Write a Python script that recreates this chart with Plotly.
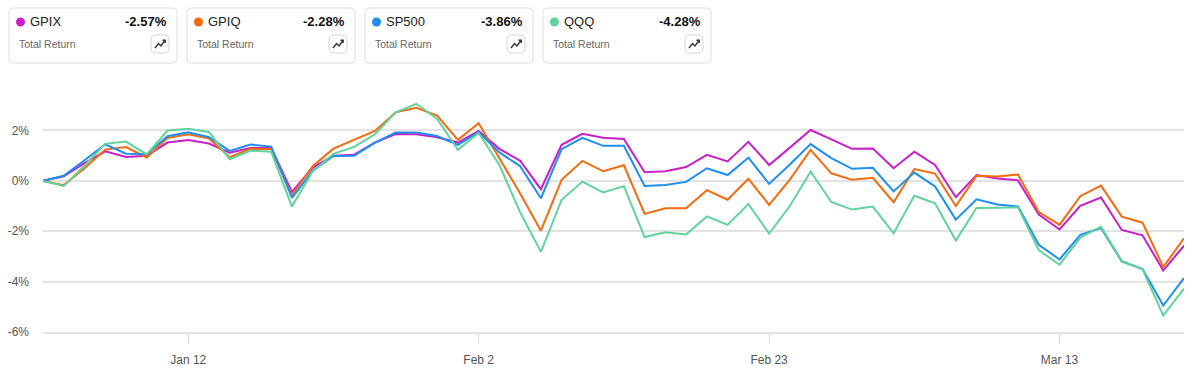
import plotly.graph_objects as go

# ---------------- data ----------------
dates = [
    "2025-12-31", "2026-01-02", "2026-01-05", "2026-01-06", "2026-01-07", "2026-01-08", "2026-01-09",
    "2026-01-12", "2026-01-13", "2026-01-14", "2026-01-15", "2026-01-16",
    "2026-01-20", "2026-01-21", "2026-01-22", "2026-01-23",
    "2026-01-26", "2026-01-27", "2026-01-28", "2026-01-29", "2026-01-30",
    "2026-02-02", "2026-02-03", "2026-02-04", "2026-02-05", "2026-02-06",
    "2026-02-09", "2026-02-10", "2026-02-11", "2026-02-12", "2026-02-13",
    "2026-02-17", "2026-02-18", "2026-02-19", "2026-02-20",
    "2026-02-23", "2026-02-24", "2026-02-25", "2026-02-26", "2026-02-27",
    "2026-03-02", "2026-03-03", "2026-03-04", "2026-03-05", "2026-03-06",
    "2026-03-09", "2026-03-10", "2026-03-11", "2026-03-12",
    "2026-03-13", "2026-03-16", "2026-03-17", "2026-03-18", "2026-03-19", "2026-03-20",
    "2026-03-23",
]

gpix = [0, 0.18, 0.7, 1.17, 0.95, 1.0, 1.52, 1.62, 1.48, 1.12, 1.3, 1.3, -0.44, 0.53, 1.0, 1.04,
        1.52, 1.86, 1.85, 1.73, 1.52, 1.98, 1.27, 0.8, -0.33, 1.43, 1.87, 1.71, 1.66, 0.34, 0.38,
        0.55, 1.03, 0.77, 1.55, 0.63, 1.32, 2.02, 1.65, 1.27, 1.28, 0.5, 1.16, 0.63, -0.65, 0.23,
        0.09, 0.02, -1.34, -1.93, -0.99, -0.66, -1.95, -2.16, -3.56, -2.57]
gpiq = [0, -0.17, 0.5, 1.24, 1.34, 0.93, 1.7, 1.85, 1.68, 0.94, 1.27, 1.26, -0.58, 0.58, 1.28, 1.62,
        1.98, 2.72, 2.9, 2.59, 1.63, 2.29, 0.9, -0.5, -1.98, 0.04, 0.79, 0.38, 0.62, -1.31, -1.09,
        -1.09, -0.37, -0.75, 0.08, -0.95, 0.05, 1.23, 0.3, 0.04, 0.12, -0.85, 0.47, 0.29, -1.0, 0.2,
        0.17, 0.25, -1.24, -1.75, -0.61, -0.19, -1.42, -1.66, -3.42, -2.28]
sp500 = [0, 0.2, 0.82, 1.45, 1.08, 1.07, 1.77, 1.93, 1.73, 1.19, 1.44, 1.36, -0.68, 0.4, 0.99, 1.0,
         1.52, 1.92, 1.92, 1.78, 1.43, 1.93, 1.13, 0.58, -0.69, 1.26, 1.71, 1.39, 1.39, -0.2, -0.16,
         -0.04, 0.5, 0.23, 0.92, -0.12, 0.65, 1.46, 0.9, 0.48, 0.52, -0.42, 0.33, -0.22, -1.54, -0.73,
         -0.94, -1.02, -2.54, -3.12, -2.14, -1.87, -3.2, -3.5, -4.95, -3.86]
qqq = [0, -0.2, 0.6, 1.47, 1.56, 1.05, 2.0, 2.07, 1.94, 0.86, 1.2, 1.16, -1.02, 0.38, 1.07, 1.35,
       1.85, 2.72, 3.06, 2.46, 1.23, 1.9, 0.63, -1.25, -2.82, -0.75, -0.03, -0.46, -0.21, -2.23, -2.04,
       -2.13, -1.41, -1.75, -0.92, -2.09, -1.0, 0.37, -0.84, -1.14, -1.02, -2.08, -0.59, -0.89, -2.37, -1.08,
       -1.07, -1.05, -2.75, -3.33, -2.25, -1.82, -3.18, -3.5, -5.35, -4.28]

series_names = ["GPIX", "GPIQ", "SP500", "QQQ"]
series_values = [gpix, gpiq, sp500, qqq]
series_colors = ["#c81fc8", "#f56b0f", "#1f8ef1", "#5fd39b"]
card_values = ["-2.57%", "-2.28%", "-3.86%", "-4.28%"]
card_sub = "Total Return"

x_tick_vals = ["2026-01-12", "2026-02-02", "2026-02-23", "2026-03-13"]
x_tick_text = ["Jan 12", "Feb 2", "Feb 23", "Mar 13"]
y_tick_vals = [-6, -4, -2, 0, 2]
y_tick_text = ["-6%", "-4%", "-2%", "0%", "2%"]

# ---------------- figure ----------------
W, H = 1199, 377
ML, MR, MT, MB = 43, 15, 100, 45
PW, PH = W - ML - MR, H - MT - MB

def px(x):
    return (x - ML) / PW

def py(y):
    return (H - MB - y) / PH

fig = go.Figure()
for name, vals, col in zip(series_names, series_values, series_colors):
    fig.add_trace(go.Scatter(
        x=dates, y=vals, name=name, mode="lines",
        line=dict(color=col, width=2),
        hovertemplate="%{y:.2f}%<extra>" + name + "</extra>",
    ))

shapes = []
annotations = []

def rounded_rect(x0, y0, x1, y1, r):
    X0, X1 = px(x0), px(x1)
    Y0, Y1 = py(y0), py(y1)
    rx, ry = r / PW, r / PH
    return (f"M {X0+rx},{Y0} L {X1-rx},{Y0} Q {X1},{Y0} {X1},{Y0-ry} "
            f"L {X1},{Y1+ry} Q {X1},{Y1} {X1-rx},{Y1} L {X0+rx},{Y1} "
            f"Q {X0},{Y1} {X0},{Y1+ry} L {X0},{Y0-ry} Q {X0},{Y0} {X0+rx},{Y0} Z")

card_lefts = [9, 187, 365, 543]
card_w = 168
for i, (name, col, val) in enumerate(zip(series_names, series_colors, card_values)):
    cx = card_lefts[i]
    shapes.append(dict(type="path", xref="paper", yref="paper",
                       path=rounded_rect(cx, 8, cx + card_w, 63, 4),
                       line=dict(color="#dedede", width=1), fillcolor="white", layer="below"))
    shapes.append(dict(type="circle", xref="paper", yref="paper",
                       x0=px(cx + 7), x1=px(cx + 16), y0=py(26.5), y1=py(17.5),
                       line=dict(width=0), fillcolor=col))
    annotations.append(dict(xref="paper", yref="paper", x=px(cx + 19), y=py(22),
                            text=name, showarrow=False, xanchor="left", yanchor="middle",
                            font=dict(size=13, color="#222", family="Liberation Sans, Arial")))
    annotations.append(dict(xref="paper", yref="paper", x=px(cx + 160), y=py(22),
                            text="<b>" + val + "</b>", showarrow=False, xanchor="right", yanchor="middle",
                            font=dict(size=13, color="#111", family="Liberation Sans, Arial")))
    annotations.append(dict(xref="paper", yref="paper", x=px(cx + 8), y=py(44),
                            text=card_sub, showarrow=False, xanchor="left", yanchor="middle",
                            font=dict(size=10.5, color="#666", family="Liberation Sans, Arial")))
    bx = cx + 142
    shapes.append(dict(type="path", xref="paper", yref="paper",
                       path=rounded_rect(bx, 35, bx + 18, 53, 5),
                       line=dict(color="#d5d5d5", width=1), fillcolor="white"))
    ipath = (f"M {px(bx+4)},{py(48)} L {px(bx+7.5)},{py(43.5)} L {px(bx+10)},{py(46)} "
             f"L {px(bx+14)},{py(40.5)}")
    shapes.append(dict(type="path", xref="paper", yref="paper", path=ipath,
                       line=dict(color="#333", width=1.4)))
    apath = (f"M {px(bx+11.5)},{py(40.3)} L {px(bx+14.2)},{py(40.3)} L {px(bx+14.2)},{py(43)}")
    shapes.append(dict(type="path", xref="paper", yref="paper", path=apath,
                       line=dict(color="#333", width=1.4)))

fig.update_layout(
    width=W, height=H,
    margin=dict(l=ML, r=MR, t=MT, b=MB, pad=0, autoexpand=False),
    paper_bgcolor="white", plot_bgcolor="white",
    showlegend=False,
    font=dict(family="Liberation Sans, Arial", size=12, color="#555"),
    shapes=shapes, annotations=annotations,
    hovermode="x unified",
)
fig.update_xaxes(
    type="category", range=[0, len(dates) - 1], automargin=False,
    tickmode="array", tickvals=x_tick_vals, ticktext=x_tick_text,
    ticks="outside", ticklen=10, tickcolor="#dcdcdc", tickwidth=1,
    showgrid=False, showline=True, linecolor="#e3e3e3", linewidth=2,
    tickfont=dict(size=12, color="#555"), ticklabelstandoff=6,
    zeroline=False,
)
fig.update_yaxes(
    range=[-6, 3.21], automargin=False, tickmode="array", tickvals=y_tick_vals, ticktext=y_tick_text,
    showgrid=True, gridcolor="#e3e3e3", gridwidth=2,
    zeroline=False, showline=False, ticks="",
    tickfont=dict(size=12, color="#555"), ticklabelstandoff=13,
)

fig.write_html("out.html", config={"displayModeBar": False})

# remove default page margin so the figure sits at the window's origin
with open("out.html", "r", encoding="utf-8") as f:
    html = f.read()
html = html.replace("<head>", "<head><style>html,body{margin:0;padding:0;}</style>", 1)
with open("out.html", "w", encoding="utf-8") as f:
    f.write(html)
